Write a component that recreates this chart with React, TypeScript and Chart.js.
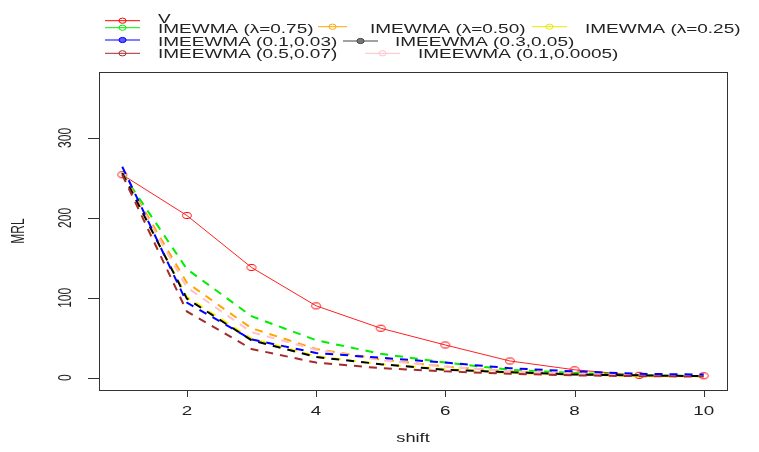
import React, { useEffect, useRef } from "react";
import { Chart, registerables } from "chart.js";

Chart.register(...registerables);

// shift values on the x axis
const shifts = [1, 2, 3, 4, 5, 6, 7, 8, 9, 10];

// MRL per series
const mrlV = [254, 203, 138, 90, 62, 41, 21, 10, 3, 2.5];
const mrlL075 = [256, 136, 77, 47, 30, 19, 10, 6, 3, 2];
const mrlL050 = [256, 119, 62, 36, 23, 14, 8, 5, 3, 2];
const mrlL025 = [255, 101, 49, 27, 17, 11, 6, 4, 2, 2];
const mrlE1 = [264, 94, 48, 31, 25, 19, 12, 8, 5, 4];
const mrlE2 = [256, 99, 47, 26, 17, 10, 7, 4, 3, 2];
const mrlE3 = [254, 83, 36, 19, 12, 8, 5, 3, 2, 1.5];
const mrlE4 = [255, 113, 57, 35, 22, 14, 8, 5, 3, 2];

const seriesLabels = [
  "V",
  "IMEWMA (λ=0.75)",
  "IMEWMA (λ=0.50)",
  "IMEWMA (λ=0.25)",
  "IMEEWMA (0.1,0.03)",
  "IMEEWMA (0.3,0.05)",
  "IMEEWMA (0.5,0.07)",
  "IMEEWMA (0.1,0.0005)",
];

const xTicks = [2, 4, 6, 8, 10];
const yTicks = [0, 100, 200, 300];

const FONT = '"Liberation Sans", Arial, sans-serif';

function txt(
  ctx: CanvasRenderingContext2D,
  s: string,
  x: number,
  y: number,
  size: number,
  sx: number,
  rot: boolean,
  align: CanvasTextAlign
) {
  ctx.save();
  ctx.translate(x, y);
  ctx.scale(sx, 1);
  if (rot) ctx.rotate(-Math.PI / 2);
  ctx.font = `${size}px ${FONT}`;
  ctx.textAlign = align;
  ctx.textBaseline = "middle";
  ctx.fillStyle = "#222";
  ctx.fillText(s, 0, 0);
  ctx.restore();
}

function ring(ctx: CanvasRenderingContext2D, x: number, y: number, col: string, fill?: string) {
  ctx.beginPath();
  ctx.ellipse(x, y, 3.6, 2.6, 0, 0, Math.PI * 2);
  if (fill) {
    ctx.fillStyle = fill;
    ctx.fill();
  }
  ctx.strokeStyle = col;
  ctx.lineWidth = 1;
  ctx.stroke();
}

// legend layout, R style: [colour, x0, x1, y, label x, label y, fill]
const legendItems: [string, number, number, number, number, number, string?][] = [
  ["red", 105, 140, 20.7, 158, 19],
  ["#00ee00", 105, 140, 27.7, 158, 29],
  ["orange", 318, 347, 26.7, 370, 29],
  ["#e8e800", 532, 567, 26.7, 585, 29],
  ["blue", 105, 140, 40, 158, 42, "#5a5aff"],
  ["#444", 343, 378, 41, 395, 42, "#777"],
  ["brown", 105, 140, 53.3, 158, 54],
  ["pink", 365, 400, 53.3, 418, 54],
];

const rPlot = {
  id: "rPlot",
  afterDraw(chart: Chart) {
    const ctx = chart.ctx;
    const a = chart.chartArea;
    const xs = chart.scales.x;
    const ys = chart.scales.y;
    ctx.save();
    ctx.strokeStyle = "#333";
    ctx.lineWidth = 1;
    ctx.strokeRect(a.left + 0.5, a.top + 0.5, a.right - a.left, a.bottom - a.top);

    ctx.beginPath();
    xTicks.forEach((t) => {
      const px = Math.round(xs.getPixelForValue(t)) + 0.5;
      ctx.moveTo(px, a.bottom);
      ctx.lineTo(px, a.bottom + 7);
    });
    yTicks.forEach((t) => {
      const py = Math.round(ys.getPixelForValue(t)) + 0.5;
      ctx.moveTo(a.left, py);
      ctx.lineTo(a.left - 11, py);
    });
    ctx.stroke();

    xTicks.forEach((t) => txt(ctx, String(t), xs.getPixelForValue(t), a.bottom + 21, 13, 1.45, false, "center"));
    yTicks.forEach((t) => txt(ctx, String(t), a.left - 33, ys.getPixelForValue(t), 12, 1.6, true, "center"));
    txt(ctx, "shift", (a.left + a.right) / 2, a.bottom + 48, 13, 1.4, false, "center");
    txt(ctx, "MRL", 19, (a.top + a.bottom) / 2, 12, 1.5, true, "center");

    legendItems.forEach(([col, x0, x1, y, lx, ly, fill], i) => {
      ctx.beginPath();
      ctx.strokeStyle = col;
      ctx.lineWidth = 1;
      ctx.moveTo(x0, y);
      ctx.lineTo(x1, y);
      ctx.stroke();
      ring(ctx, (x0 + x1) / 2, y, col, fill);
      txt(ctx, seriesLabels[i], lx, ly, 13, 1.46, false, "left");
    });
    ctx.restore();
  },
};

function makeMarker(): HTMLCanvasElement {
  const c = document.createElement("canvas");
  c.width = 12;
  c.height = 9;
  const g = c.getContext("2d");
  if (g) {
    g.strokeStyle = "red";
    g.lineWidth = 1;
    g.beginPath();
    g.ellipse(6, 4.5, 4.4, 3, 0, 0, Math.PI * 2);
    g.stroke();
  }
  return c;
}

const App: React.FC = () => {
  const chartRef = useRef<HTMLCanvasElement>(null);
  const chartInstance = useRef<Chart | null>(null);

  useEffect(() => {
    if (!chartRef.current) return;
    const ctx = chartRef.current.getContext("2d");
    if (!ctx) return;
    if (chartInstance.current) chartInstance.current.destroy();

    const pts = (vals: number[]) => shifts.map((x, i) => ({ x, y: vals[i] }));
    // lower order is painted on top; blue ends up over the rest like in the R plot
    const dashed = (i: number, vals: number[], color: string, order: number) => ({
      label: seriesLabels[i],
      data: pts(vals),
      borderColor: color,
      borderWidth: 2,
      borderDash: [8, 7],
      pointRadius: 0,
      tension: 0,
      fill: false,
      order,
    });

    chartInstance.current = new Chart(ctx, {
      type: "line",
      data: {
        datasets: [
          {
            label: seriesLabels[0],
            data: pts(mrlV),
            borderColor: "#ff2020",
            borderWidth: 1,
            pointStyle: makeMarker(),
            pointRadius: 4,
            tension: 0,
            fill: false,
            order: 10,
          },
          dashed(1, mrlL075, "#00ee00", 9),
          dashed(2, mrlL050, "orange", 8),
          dashed(3, mrlL025, "#f5f500", 7),
          dashed(4, mrlE1, "blue", 1),
          dashed(5, mrlE2, "black", 5),
          dashed(6, mrlE3, "brown", 4),
          dashed(7, mrlE4, "pink", 6),
        ],
      },
      options: {
        responsive: false,
        animation: false,
        devicePixelRatio: 1,
        layout: { padding: { left: 99, right: 32, top: 72, bottom: 62 } },
        plugins: { legend: { display: false }, tooltip: { enabled: false } },
        scales: {
          x: { type: "linear", min: 0.64, max: 10.36, display: false },
          y: { type: "linear", min: -15.3, max: 382.5, display: false },
        },
      },
      plugins: [rPlot],
    });

    return () => {
      if (chartInstance.current) {
        chartInstance.current.destroy();
        chartInstance.current = null;
      }
    };
  }, []);

  return (
    <div style={{ position: "absolute", left: 0, top: 0, width: 759, height: 452, background: "#fff" }}>
      <canvas ref={chartRef} width={759} height={452}></canvas>
    </div>
  );
};

export default App;
